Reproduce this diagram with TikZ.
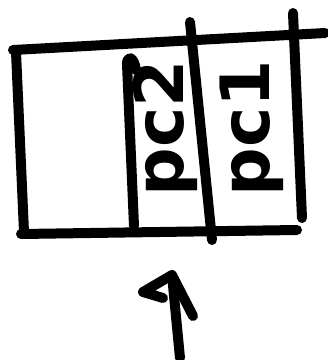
\documentclass[tikz,border=0pt]{standalone}
\usepackage{fontspec}
\setsansfont{DejaVu Sans}
\usepackage{tikz}
\usetikzlibrary{arrows.meta}

\begin{document}
\begin{tikzpicture}[x=1pt, y=-1pt, line width=10pt, line cap=round, line join=round]
\useasboundingbox (0,0) rectangle (328,360);
\draw (13,50) -- (325,33);
\draw (21,234) -- (297,230);
\draw (16,52) -- (24,232);
\draw (136,70) .. controls (134,56) and (127,55) .. (127,64) -- (134,226);
\draw (190,22) -- (212,240);
\draw (293,13) -- (302,218);
\node[rotate=90, font=\fontsize{68}{68}\selectfont\sffamily\bfseries] (pctwo) at (165,128) {pc2};
\node[rotate=90, font=\fontsize{68}{68}\selectfont\sffamily\bfseries] (pcone) at (252,128) {pc1};
\coordinate (tail) at (180,358);
\coordinate (head) at (172,275);
\draw (tail) -- (head);
\draw (163,298) -- (143,292) -- (head) -- (193,316);
\end{tikzpicture}
\end{document}
